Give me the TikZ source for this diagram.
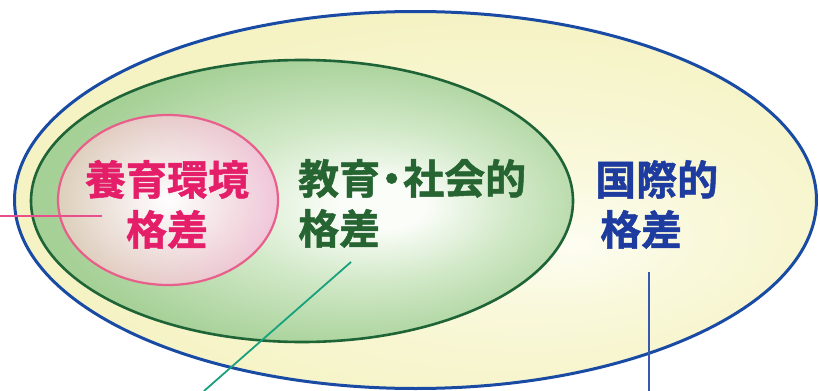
\documentclass[tikz,border=0pt]{standalone}
\usepackage{fontspec}
\newfontfamily\cjk{Noto Sans CJK JP}[BoldFont={Noto Sans CJK JP Bold}, BoldFeatures={FakeBold=1.2}]
\usetikzlibrary{shapes.geometric,fadings}
\definecolor{outerB}{RGB}{25,75,165}
\definecolor{greenB}{RGB}{30,100,55}
\definecolor{pinkB}{RGB}{232,95,140}
\definecolor{pinkT}{RGB}{228,30,105}
\definecolor{greenT}{RGB}{38,100,50}
\definecolor{blueT}{RGB}{30,60,160}
\definecolor{pinkLine}{RGB}{232,80,140}
\definecolor{tealLine}{RGB}{25,160,125}
\definecolor{blueLine}{RGB}{55,90,175}
\definecolor{ye}{RGB}{245,243,195}
\definecolor{ym}{RGB}{249,248,218}
\definecolor{yc}{RGB}{253,253,242}
\definecolor{gE}{RGB}{165,208,150}
\definecolor{gM}{RGB}{208,232,198}
\definecolor{gC}{RGB}{250,253,248}
\definecolor{pinkL}{RGB}{220,208,186}
\definecolor{pinkR}{RGB}{242,198,218}
\pgfdeclareradialshading{yellowshade}{\pgfpoint{10bp}{-6bp}}{color(0bp)=(yc); color(10bp)=(ym); color(28bp)=(ye); color(50bp)=(ye)}
\pgfdeclareradialshading{greenshade}{\pgfpoint{8bp}{-1bp}}{color(0bp)=(gC); color(4bp)=(gC); color(14bp)=(gM); color(27bp)=(gE); color(50bp)=(gE)}
\tikzfading[name=pinkglow, inner color=transparent!0, outer color=transparent!100]
\tikzset{
  lbl/.style={font=\cjk\bfseries\fontsize{41}{50}\selectfont, inner sep=0pt},
  ring/.style={ellipse, inner sep=0pt},
  conn/.style={line width=1.8pt}
}
\begin{document}
\begin{tikzpicture}[x=1pt,y=-1pt]
\useasboundingbox (0,0) rectangle (820,391);
\node[ring, minimum width=802pt, minimum height=377pt, draw=outerB, line width=3pt, shading=yellowshade] (outer) at (415.5,200) {};
\node[ring, minimum width=542pt, minimum height=282pt, draw=greenB, line width=2.6pt, shading=greenshade] (middle) at (302,201) {};
\node[ring, minimum width=220pt, minimum height=170pt, draw=pinkB, line width=2.2pt,
  preaction={left color=pinkL, right color=pinkR},
  preaction={fill=white, path fading=pinkglow}] (inner) at (168,200) {};
\node[lbl, text=pinkT, align=center, anchor=base] (yoiku) at (167,245) {養育環境\\格差};
\node[lbl, text=greenT, align=left, anchor=base west] (kyoiku) at (298,244) {教育\kern-.22em・\kern-.22em社会的\\格差};
\node[lbl, text=blueT, align=left, anchor=base west] (kokusai) at (595,245) {国際的\\\hspace*{5pt}格差};
\coordinate (pA) at (0,216);
\coordinate (pB) at (102,216);
\coordinate (tA) at (204,391);
\coordinate (tB) at (351,262);
\coordinate (bA) at (649,391);
\coordinate (bB) at (649,272);
\draw[conn, pinkLine] (pA) -- (pB);
\draw[conn, tealLine] (tA) -- (tB);
\draw[conn, blueLine] (bA) -- (bB);
\end{tikzpicture}
\end{document}
